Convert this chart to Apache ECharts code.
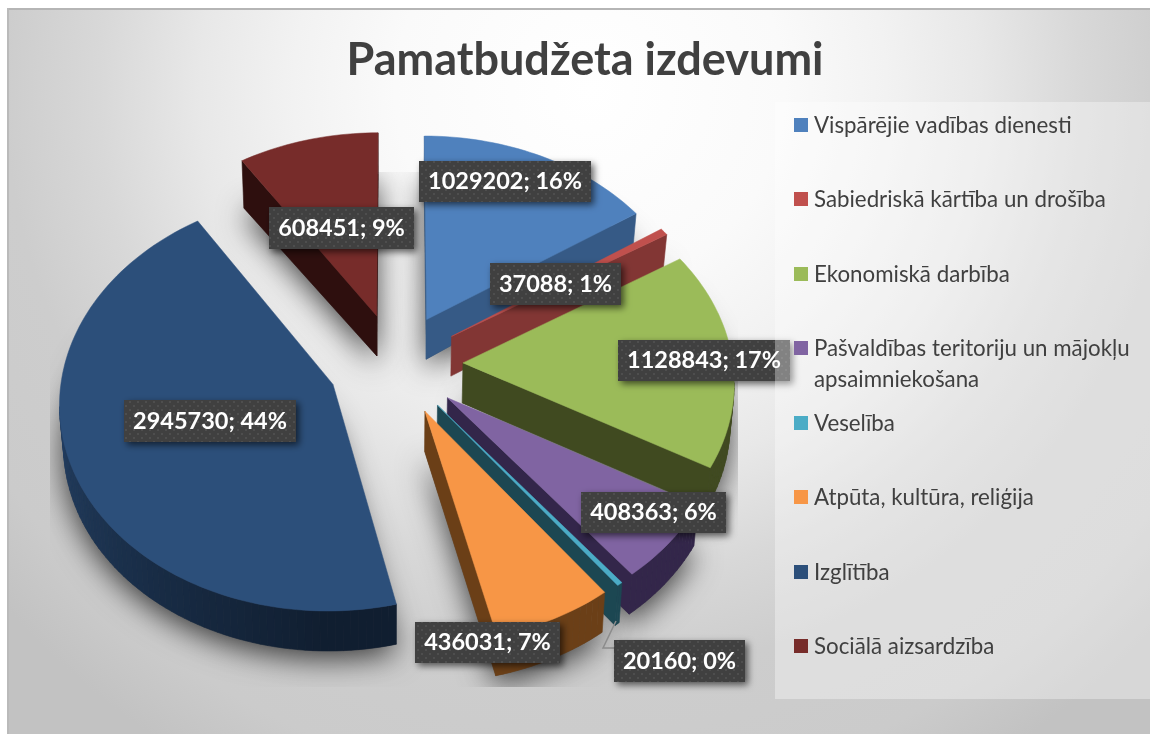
<!DOCTYPE html>
<html>
<head>
<meta charset="utf-8">
<style>html,body{margin:0;padding:0;background:#fff}#c{width:1150px;height:734px}</style>
<script src="https://cdn.jsdelivr.net/npm/echarts@6/dist/echarts.min.js"></script>
</head>
<body>
<div id="c"></div>
<script>
// ---- data ----
const titleText = 'Pamatbudžeta izdevumi';
const categories = ['Vispārējie vadības dienesti','Sabiedriskā kārtība un drošība','Ekonomiskā darbība','Pašvaldības teritoriju un mājokļu\napsaimniekošana','Veselība','Atpūta, kultūra, reliģija','Izglītība','Sociālā aizsardzība'];
const values = [1029202,37088,1128843,408363,20160,436031,2945730,608451];
const percents = [16,1,17,6,0,7,44,9];

// ---- styles ----
const topColors  = ['#4f81bd','#c0504d','#9bbb59','#8064a2','#4bacc6','#f79646','#2c4f7a','#772c2a'];
const sideColors = ['#365a86','#823634','#404a20','#33264a','#1c4752','#6b3f17','#101e30','#2e0f0e'];
const rimLights  = ['#365a86','#823634','#4a5624','#33264a','#1c4752','#6b3f17','#244064','#2e0f0e'];
const paintRank  = [1,2,3,4,5,6,7,0];
const labelBoxes = [[419,161,172,41],[490,263,131,42],[618,340,172,41],[581,492,145,41],[614,640,131,42],[415,622,145,41],[124,400,172,42],[269,207,145,42]];
const leaderLine = [[616,621],[603,648],[614,648]];
const legendY = [118,192,267,341,416,490,565,639];

// ---- view of the tilted, exploded disk ----
const view = {cx:395.5, cy:364, a:270, b:205, k:0.08, explode:0.25, shrink:0.988, depth:40, depthXY:11};
const total = values.reduce((s,v)=>s+v,0);
const starts = []; values.reduce((s,v,i)=>{starts[i]=s;return s+v;},0);
const rad = d=>d*Math.PI/180;
function project(X,Y){const w=1+view.k*Y;return [view.cx+view.a*X/w, view.cy-view.b*Y/w];}
function lower(X,Y){const p=project(X,Y);return [view.cx+(p[0]-view.cx)*view.shrink, p[1]+view.depth-view.depthXY*X*Math.max(0,Y)];}
function geometry(i,val){
  const a0=starts[i]/total*360, a1=a0+val/total*360, m=(a0+a1)/2;
  const ex=view.explode*Math.sin(rad(m)), ey=view.explode*Math.cos(rad(m));
  const disk=[[ex,ey]];
  const n=Math.max(2,Math.ceil((a1-a0)/1.5));
  const angs=[];
  for(let s=0;s<=n;s++){const t=a0+(a1-a0)*s/n;angs.push(t);disk.push([ex+Math.sin(rad(t)),ey+Math.cos(rad(t))]);}
  return {disk,angs};
}
function lerpColor(c1,c2,t){
  const p=c=>[1,3,5].map(j=>parseInt(c.substr(j,2),16));
  const A=p(c1),B=p(c2);
  return 'rgb('+A.map((v,j)=>Math.round(v+(B[j]-v)*t)).join(',')+')';
}
function shadowItem(params,api){
  const i=params.dataIndex, g=geometry(i,api.value(0));
  return {type:'group',
    clipPath:{type:'rect',shape:{x:50,y:172,width:688,height:515}},
    children:[{type:'polygon',silent:true,shape:{points:g.disk.map(d=>lower(d[0],d[1]))},
      style:{fill:'#555',shadowBlur:30,shadowOffsetY:8,shadowColor:'rgba(0,0,0,0.72)'}}]};
}
function faceItem(params,api){
  const i=params.dataIndex, g=geometry(i,api.value(0)), r=paintRank[i], kids=[];
  const d=g.disk, N=d.length;
  for(let s=0;s<N;s++){
    const A=d[s],B=d[(s+1)%N];
    const pA=project(A[0],A[1]),pB=project(B[0],B[1]);
    if(pB[0]-pA[0]>=-0.001) continue;   // this wall faces away from the viewer
    const onRim=s>0&&s<N-1;
    let col=sideColors[i];
    if(onRim){
      const ang=(g.angs[s-1]+g.angs[s])/2;
      col=lerpColor(sideColors[i],rimLights[i],Math.max(0,Math.min(1,(ang-180)/90)));
    }
    kids.push({type:'polygon',silent:true,z2:r*10+(onRim?1:0),
      shape:{points:[pA,pB,lower(B[0],B[1]),lower(A[0],A[1])]},
      style:{fill:col,stroke:col,lineWidth:0.6}});
  }
  kids.push({type:'polygon',silent:true,z2:r*10+2,shape:{points:d.map(p=>project(p[0],p[1]))},
    style:{fill:topColors[i],stroke:topColors[i],lineWidth:0.5}});
  return {type:'group',children:kids};
}
const dot=document.createElement('canvas');dot.width=8;dot.height=8;
(function(){const c=dot.getContext('2d');c.fillStyle='#404040';c.fillRect(0,0,8,8);c.fillStyle='#4e4e4e';c.fillRect(1,1,2,2);c.fillRect(5,5,2,2);})();
function labelItem(params,api){
  const i=params.dataIndex,b=labelBoxes[i];
  return {type:'group',children:[
    {type:'rect',silent:true,shape:{x:b[0],y:b[1],width:b[2],height:b[3]},
     style:{fill:{image:dot,repeat:'repeat'},shadowBlur:7,shadowOffsetX:3,shadowOffsetY:3,shadowColor:'rgba(0,0,0,0.6)'}},
    {type:'text',silent:true,z2:5,x:b[0]+b[2]/2,y:b[1]+b[3]/2,
     style:{text:api.value(0)+'; '+percents[i]+'%',fill:'#fff',font:'bold 23.5px Lato',align:'center',verticalAlign:'middle'}}
  ]};
}
const data=values.map(v=>[v]);
const bgStops=[[0,'#ffffff'],[.25,'#fafafa'],[.38,'#f2f2f2'],[.5,'#e8e8e8'],[.63,'#d8d8d8'],[.75,'#cdcdcd'],[.9,'#cbcbcb'],[1,'#c2c2c2']].map(s=>({offset:s[0],color:s[1]}));
const graphics=[
  {type:'rect',z:-10,silent:true,shape:{x:7,y:8,width:1143,height:726},style:{fill:{type:'radial',x:590,y:90,r:780,global:true,colorStops:bgStops}}},
  {type:'rect',z:-9,silent:true,shape:{x:7,y:8,width:1143,height:2},style:{fill:'#b5b5b5'}},
  {type:'rect',z:-9,silent:true,shape:{x:7,y:8,width:2,height:726},style:{fill:'#bababa'}},
  {type:'rect',z:10,silent:true,shape:{x:775,y:102,width:375,height:597},style:{fill:'rgba(255,255,255,0.35)'}}
];
categories.forEach((c,i)=>{
  graphics.push({type:'rect',z:11,silent:true,shape:{x:794,y:legendY[i],width:14,height:14},style:{fill:topColors[i]}});
  graphics.push({type:'text',z:11,silent:true,x:814,y:legendY[i]-8,style:{text:c,fill:'#404040',font:'22.3px Lato',lineHeight:31,align:'left',verticalAlign:'top'}});
});
const chart=echarts.init(document.getElementById('c'),null,{renderer:'canvas'});
chart.setOption({
  animation:false,
  backgroundColor:'transparent',
  title:{text:titleText,left:580,top:33,textAlign:'center',z:12,textStyle:{fontFamily:'Lato',fontWeight:'bold',fontSize:45,color:'#404040'}},
  graphic:graphics,
  series:[
    {type:'custom',name:'shadow',coordinateSystem:'none',z:2,silent:true,renderItem:shadowItem,data:data,clip:false},
    {type:'custom',name:'Pamatbudžeta izdevumi',coordinateSystem:'none',z:3,silent:true,renderItem:faceItem,data:data,clip:false},
    {type:'custom',name:'labels',coordinateSystem:'none',z:5,silent:true,renderItem:labelItem,data:data,clip:false},
    {type:'custom',name:'leader',coordinateSystem:'none',z:4,silent:true,clip:false,data:[[0]],
     renderItem:()=>({type:'polyline',silent:true,shape:{points:leaderLine},style:{fill:'none',stroke:'#8c8c8c',lineWidth:1.5}})}
  ]
});
</script>
</body>
</html>
